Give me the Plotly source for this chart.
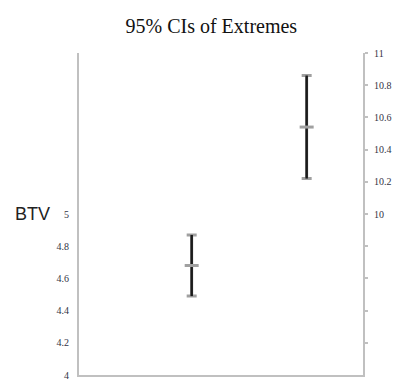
import plotly.graph_objects as go

# Data
groups = ["Low extreme", "High extreme"]
xpos = [1, 2]
means = [4.68, 10.54]
lower = [4.49, 10.22]
upper = [4.87, 10.86]

left_ticks = [4, 4.2, 4.4, 4.6, 4.8, 5]
left_ticktext = ["4", "4.2", "4.4", "4.6", "4.8", "5"]
right_ticks = [9.2, 9.4, 9.6, 9.8, 10, 10.2, 10.4, 10.6, 10.8, 11]
right_ticktext = ["", "", "", "", "10", "10.2", "10.4", "10.6", "10.8", "11"]

fig = go.Figure()
axes = ["y", "y2"]
for i in range(2):
    plus = [upper[i] - means[i]]
    minus = [means[i] - lower[i]]
    # gray caps
    fig.add_trace(go.Scatter(
        x=[xpos[i]], y=[means[i]], yaxis=axes[i], mode="markers",
        marker=dict(size=1, color="rgba(0,0,0,0)"),
        error_y=dict(type="data", symmetric=False, array=plus, arrayminus=minus,
                     color="#a0a0a0", thickness=3, width=5),
        showlegend=False, hoverinfo="skip", name=groups[i]))
    # black stem
    fig.add_trace(go.Scatter(
        x=[xpos[i]], y=[means[i]], yaxis=axes[i], mode="markers",
        marker=dict(size=10, symbol="line-ew", line=dict(width=3, color="#a0a0a0")),
        error_y=dict(type="data", symmetric=False, array=plus, arrayminus=minus,
                     color="#1a1a1a", thickness=2.5, width=0),
        showlegend=False, name=groups[i]))

serif = "Liberation Serif, Times New Roman, DejaVu Serif, serif"
tickfont = dict(family=serif, size=10, color="#333344")

fig.update_layout(
    width=395, height=387,
    margin=dict(l=79, r=32, t=53, b=12, autoexpand=False),
    paper_bgcolor="white", plot_bgcolor="white",
    title=dict(text="95% CIs of Extremes", x=0.535, xanchor="center", y=0.932, yanchor="middle",
               font=dict(family=serif, size=20, color="#111111")),
    xaxis=dict(range=[0.02, 2.49], showticklabels=False, showgrid=False, zeroline=False,
               showline=True, linecolor="#c0c0c0", linewidth=2, ticks="", automargin=False),
    yaxis=dict(range=[4, 6], tickvals=left_ticks, ticktext=left_ticktext, showgrid=False,
               zeroline=False, showline=True, linecolor="#c0c0c0", linewidth=2,
               ticks="", tickfont=tickfont, ticklabelstandoff=6, automargin=False),
    yaxis2=dict(range=[9, 11], overlaying="y", side="right", tickvals=right_ticks,
                ticktext=right_ticktext, showgrid=False, zeroline=False, showline=True,
                linecolor="#c0c0c0", linewidth=2, ticks="outside", ticklen=3,
                tickcolor="#c0c0c0", tickwidth=2, tickfont=tickfont, ticklabelstandoff=4,
                automargin=False),
    annotations=[dict(text="BTV", xref="paper", yref="y", x=-0.095, y=5, xanchor="right",
                      yanchor="middle", showarrow=False,
                      font=dict(family="Liberation Sans, Arial, sans-serif", size=18,
                                color="#222222"))],
)

fig.write_html("out.html", config={"displayModeBar": False},
               post_script="document.body.style.margin='0';document.body.style.overflow='hidden';")
